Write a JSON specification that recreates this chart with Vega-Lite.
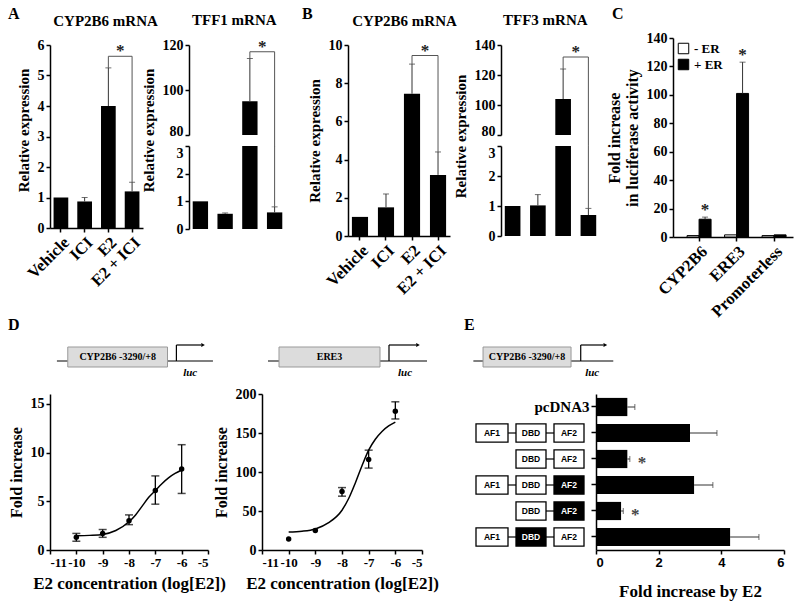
{
  "$schema": "https://vega.github.io/schema/vega-lite/v6.json",
  "padding": {"left": 8, "top": 6, "right": 5, "bottom": 5},
  "columns": 7,
  "align": "each",
  "bounds": "flush",
  "spacing": {"row": 157, "column": 0},
  "resolve": {"legend": {"color": "independent"}},
  "datasets": {
    "a1": [
      {"group": "Vehicle", "value": 1.0},
      {"group": "ICI", "value": 0.87, "err": 1.0},
      {"group": "E2", "value": 4.0, "err": 5.25},
      {"group": "E2 + ICI", "value": 1.2, "err": 1.5}
    ],
    "a1br": [{"group": "E2", "group2": "E2 + ICI", "yl": 5.25, "yr": 1.5, "top": 5.63}],
    "a2": [
      {"group": "Vehicle", "value": 1.0},
      {"group": "ICI", "value": 0.55, "err": 0.58},
      {"group": "E2", "value": 95, "err": 114},
      {"group": "E2 + ICI", "value": 0.6, "err": 0.8}
    ],
    "a2up": [{"group": "E2", "group2": "E2 + ICI", "yl": 114, "yr": 75, "top": 117}],
    "a2lo": [{"group2": "E2 + ICI", "yr": 0.8, "top": 3.0}],
    "b1": [
      {"group": "Vehicle", "value": 1.0},
      {"group": "ICI", "value": 1.5, "err": 2.2},
      {"group": "E2", "value": 7.45, "err": 9.0},
      {"group": "E2 + ICI", "value": 3.2, "err": 4.4}
    ],
    "b1br": [{"group": "E2", "group2": "E2 + ICI", "yl": 9.0, "yr": 4.4, "top": 9.45}],
    "b2": [
      {"group": "Vehicle", "value": 1.0},
      {"group": "ICI", "value": 1.02, "err": 1.38},
      {"group": "E2", "value": 104, "err": 124},
      {"group": "E2 + ICI", "value": 0.7, "err": 0.92}
    ],
    "b2up": [{"group": "E2", "group2": "E2 + ICI", "yl": 124, "yr": 72.7, "top": 132}],
    "b2lo": [{"group2": "E2 + ICI", "yr": 0.92, "top": 3.0}],
    "c": [
      {"g": "CYP2B6", "er": "- ER", "value": 1.0},
      {"g": "CYP2B6", "er": "+ ER", "value": 12.5, "err": 14},
      {"g": "ERE3", "er": "- ER", "value": 1.5},
      {"g": "ERE3", "er": "+ ER", "value": 101, "err": 123},
      {"g": "Promoterless", "er": "- ER", "value": 1.0},
      {"g": "Promoterless", "er": "+ ER", "value": 1.5}
    ],
    "d1p": [
      {"x": -10, "y": 1.3, "lo": 0.9, "hi": 1.7},
      {"x": -9, "y": 1.7, "lo": 1.3, "hi": 2.1},
      {"x": -8, "y": 3.0, "lo": 2.6, "hi": 3.6},
      {"x": -7, "y": 6.1, "lo": 4.7, "hi": 7.6},
      {"x": -6, "y": 8.3, "lo": 5.8, "hi": 10.8}
    ],
    "d1c": [
      {"x": -10, "y": 1.45}, {"x": -9.5, "y": 1.5}, {"x": -9, "y": 1.6},
      {"x": -8.5, "y": 2.0}, {"x": -8, "y": 2.9}, {"x": -7.75, "y": 3.6},
      {"x": -7.5, "y": 4.5}, {"x": -7.25, "y": 5.4}, {"x": -7, "y": 6.1},
      {"x": -6.75, "y": 6.8}, {"x": -6.5, "y": 7.4}, {"x": -6.25, "y": 7.85},
      {"x": -6, "y": 8.2}
    ],
    "d2p": [
      {"x": -10, "y": 14},
      {"x": -9, "y": 25},
      {"x": -8, "y": 75, "lo": 69, "hi": 80},
      {"x": -7, "y": 116, "lo": 105, "hi": 128},
      {"x": -6, "y": 178, "lo": 168, "hi": 190}
    ],
    "d2c": [
      {"x": -10, "y": 23}, {"x": -9.5, "y": 24}, {"x": -9, "y": 27},
      {"x": -8.5, "y": 35}, {"x": -8, "y": 51}, {"x": -7.75, "y": 66},
      {"x": -7.5, "y": 86}, {"x": -7.25, "y": 108}, {"x": -7, "y": 128},
      {"x": -6.75, "y": 142}, {"x": -6.5, "y": 152}, {"x": -6.25, "y": 159},
      {"x": -6, "y": 164}
    ],
    "e": [
      {"row": "pcDNA3", "value": 1.0, "err": 1.24},
      {"row": "ER", "value": 3.0, "err": 3.86},
      {"row": "ER dAF1", "value": 1.0, "err": 1.08, "star": 1.47},
      {"row": "ER AF2m", "value": 3.13, "err": 3.73},
      {"row": "ER dAF1 AF2m", "value": 0.8, "err": 0.87, "star": 1.25},
      {"row": "ER DBDm", "value": 4.28, "err": 5.2}
    ],
    "cons": [
      {"row": "ER", "dom": "AF1", "x": 0, "x2": 32, "xc": 16, "fill": "o"},
      {"row": "ER", "dom": "DBD", "x": 40, "x2": 70, "xc": 55, "fill": "o"},
      {"row": "ER", "dom": "AF2", "x": 78, "x2": 108, "xc": 93, "fill": "o"},
      {"row": "ER dAF1", "dom": "DBD", "x": 40, "x2": 70, "xc": 55, "fill": "o"},
      {"row": "ER dAF1", "dom": "AF2", "x": 78, "x2": 108, "xc": 93, "fill": "o"},
      {"row": "ER AF2m", "dom": "AF1", "x": 0, "x2": 32, "xc": 16, "fill": "o"},
      {"row": "ER AF2m", "dom": "DBD", "x": 40, "x2": 70, "xc": 55, "fill": "o"},
      {"row": "ER AF2m", "dom": "AF2", "x": 78, "x2": 108, "xc": 93, "fill": "f"},
      {"row": "ER dAF1 AF2m", "dom": "DBD", "x": 40, "x2": 70, "xc": 55, "fill": "o"},
      {"row": "ER dAF1 AF2m", "dom": "AF2", "x": 78, "x2": 108, "xc": 93, "fill": "f"},
      {"row": "ER DBDm", "dom": "AF1", "x": 0, "x2": 32, "xc": 16, "fill": "o"},
      {"row": "ER DBDm", "dom": "DBD", "x": 40, "x2": 70, "xc": 55, "fill": "f"},
      {"row": "ER DBDm", "dom": "AF2", "x": 78, "x2": 108, "xc": 93, "fill": "o"}
    ],
    "link": [
      {"row": "ER", "x": 32, "x2": 40}, {"row": "ER", "x": 70, "x2": 78},
      {"row": "ER dAF1", "x": 70, "x2": 78},
      {"row": "ER AF2m", "x": 32, "x2": 40}, {"row": "ER AF2m", "x": 70, "x2": 78},
      {"row": "ER dAF1 AF2m", "x": 70, "x2": 78},
      {"row": "ER DBDm", "x": 32, "x2": 40}, {"row": "ER DBDm", "x": 70, "x2": 78}
    ],
    "dg1": [
      {"k": "line", "x": 7, "x2": 165, "y": 19, "y2": 19},
      {"k": "line", "x": 128, "x2": 128, "y": 19, "y2": 35},
      {"k": "line", "x": 128, "x2": 153, "y": 35, "y2": 35},
      {"k": "box", "x": 18, "x2": 119, "y": 13, "y2": 33, "xc": 68.5, "yc": 23, "label": "CYP2B6 -3290/+8"},
      {"k": "head", "x": 155, "y": 35},
      {"k": "luc", "x": 142, "y": 7, "label": "luc"}
    ],
    "dg2": [
      {"k": "line", "x": 6, "x2": 165, "y": 19, "y2": 19},
      {"k": "line", "x": 127, "x2": 127, "y": 19, "y2": 35},
      {"k": "line", "x": 127, "x2": 154, "y": 35, "y2": 35},
      {"k": "box", "x": 17, "x2": 118, "y": 13, "y2": 33, "xc": 67.5, "yc": 23, "label": "ERE3"},
      {"k": "head", "x": 156, "y": 35},
      {"k": "luc", "x": 143, "y": 7, "label": "luc"}
    ],
    "dge": [
      {"k": "line", "x": -3, "x2": 156, "y": 19, "y2": 19},
      {"k": "line", "x": 119, "x2": 119, "y": 19, "y2": 35},
      {"k": "line", "x": 119, "x2": 145, "y": 35, "y2": 35},
      {"k": "box", "x": 8, "x2": 108, "y": 13, "y2": 33, "xc": 58, "yc": 23, "label": "CYP2B6 -3290/+8"},
      {"k": "head", "x": 147, "y": 35},
      {"k": "luc", "x": 132, "y": 7, "label": "luc"}
    ]
  },
  "concat": [
    {
      "width": 139, "height": 199,
      "title": {"text": "A", "anchor": "start", "frame": "group", "dx": -42, "offset": -9, "fontSize": 16},
      "resolve": {"axis": {"x": "independent"}},
      "layer": [
        {"layer": [
          {"data": {"name": "a1"}, "mark": {"type": "bar", "color": "black"},
           "encoding": {
             "x": {"field": "group", "type": "nominal", "scale": {"domain": ["Vehicle", "ICI", "E2", "E2 + ICI"], "range": [0, 93], "paddingInner": 0.38, "paddingOuter": 0.15}, "axis": {"title": null, "labelAngle": -45, "labelFontSize": 16.5, "offset": -9}},
             "y": {"field": "value", "type": "quantitative", "scale": {"domain": [0, 6], "range": [190, 7]}, "axis": {"title": "Relative expression", "values": [0, 1, 2, 3, 4, 5, 6], "tickCount": 20, "format": "d", "titleY": 92, "labelFontSize": 14}}}},
          {"data": {"name": "a1"}, "transform": [{"filter": "isValid(datum.err)"}], "mark": {"type": "rule", "color": "#333"},
           "encoding": {"x": {"field": "group", "type": "nominal"}, "y": {"field": "value", "type": "quantitative"}, "y2": {"field": "err"}}},
          {"data": {"name": "a1"}, "transform": [{"filter": "isValid(datum.err)"}], "mark": {"type": "tick", "color": "#333", "size": 6, "thickness": 1},
           "encoding": {"x": {"field": "group", "type": "nominal"}, "y": {"field": "err", "type": "quantitative"}}},
          {"data": {"name": "a1br"}, "mark": {"type": "rule", "color": "#555"},
           "encoding": {"x": {"field": "group", "type": "nominal"}, "x2": {"field": "group2"}, "y": {"field": "top", "type": "quantitative"}}},
          {"data": {"name": "a1br"}, "mark": {"type": "rule", "color": "#555"},
           "encoding": {"x": {"field": "group", "type": "nominal"}, "y": {"field": "yl", "type": "quantitative"}, "y2": {"field": "top"}}},
          {"data": {"name": "a1br"}, "mark": {"type": "rule", "color": "#555"},
           "encoding": {"x": {"field": "group2", "type": "nominal"}, "y": {"field": "yr", "type": "quantitative"}, "y2": {"field": "top"}}},
          {"data": {"name": "a1br"}, "mark": {"type": "text", "text": "*", "fontSize": 17, "fontWeight": "bold", "baseline": "alphabetic", "color": "#222"},
           "encoding": {"x": {"field": "group", "type": "nominal", "bandPosition": 1.3}, "y": {"field": "top", "type": "quantitative"}}}
        ]},
        {"data": {"name": "a1"}, "transform": [{"filter": "false"}], "mark": {"type": "tick"},
         "encoding": {"x": {"field": "group", "type": "nominal", "axis": {"orient": "top", "title": "CYP2B6  mRNA", "labels": false, "ticks": false, "domain": false, "titlePadding": 10, "titleX": 55, "titleFontSize": 15}}}}
      ]
    },
    {
      "width": 73, "height": 199,
      "title": {"text": "TFF1  mRNA", "anchor": "start", "frame": "group", "dx": 3, "offset": 10},
      "resolve": {"scale": {"y": "independent"}, "axis": {"y": "independent"}},
      "layer": [
        {"layer": [
          {"data": {"name": "a2"}, "transform": [{"filter": "datum.value > 50"}], "mark": {"type": "bar", "color": "black"},
           "encoding": {
             "x": {"field": "group", "type": "nominal", "scale": {"domain": ["Vehicle", "ICI", "E2", "E2 + ICI"], "range": [0, 97], "paddingInner": 0.38, "paddingOuter": 0.15}, "axis": null},
             "y": {"field": "value", "type": "quantitative", "scale": {"domain": [80, 120], "range": [97, 7], "zero": false}, "axis": {"orient": "left", "title": "Relative expression", "titleY": 92, "values": [80, 100, 120], "tickCount": 20, "format": "d", "labelFontSize": 14, "labelBaseline": {"condition": {"test": "datum.value == 80", "value": "alphabetic"}, "value": "middle"}}},
             "y2": {"datum": 80}}},
          {"data": {"name": "a2"}, "transform": [{"filter": "datum.value > 50"}], "mark": {"type": "rule", "color": "#333"},
           "encoding": {"x": {"field": "group", "type": "nominal", "axis": null}, "y": {"field": "value", "type": "quantitative"}, "y2": {"field": "err"}}},
          {"data": {"name": "a2"}, "transform": [{"filter": "datum.value > 50"}], "mark": {"type": "tick", "color": "#333", "size": 6, "thickness": 1},
           "encoding": {"x": {"field": "group", "type": "nominal", "axis": null}, "y": {"field": "err", "type": "quantitative"}}},
          {"data": {"name": "a2up"}, "mark": {"type": "rule", "color": "#555"},
           "encoding": {"x": {"field": "group", "type": "nominal", "axis": null}, "x2": {"field": "group2"}, "y": {"field": "top", "type": "quantitative"}}},
          {"data": {"name": "a2up"}, "mark": {"type": "rule", "color": "#555"},
           "encoding": {"x": {"field": "group", "type": "nominal", "axis": null}, "y": {"field": "yl", "type": "quantitative"}, "y2": {"field": "top"}}},
          {"data": {"name": "a2up"}, "mark": {"type": "rule", "color": "#555"},
           "encoding": {"x": {"field": "group2", "type": "nominal", "axis": null}, "y": {"field": "yr", "type": "quantitative"}, "y2": {"field": "top"}}},
          {"data": {"name": "a2up"}, "mark": {"type": "text", "text": "*", "fontSize": 17, "fontWeight": "bold", "baseline": "alphabetic", "color": "#222"},
           "encoding": {"x": {"field": "group", "type": "nominal", "bandPosition": 1.3, "axis": null}, "y": {"field": "top", "type": "quantitative"}}}
        ]},
        {"layer": [
          {"data": {"name": "a2"}, "mark": {"type": "bar", "color": "black"},
           "encoding": {
             "x": {"field": "group", "type": "nominal", "scale": {"domain": ["Vehicle", "ICI", "E2", "E2 + ICI"], "range": [0, 97], "paddingInner": 0.38, "paddingOuter": 0.15}, "axis": {"title": null, "labelAngle": -45, "labelFontSize": 16.5, "offset": -8}},
             "y": {"field": "value", "type": "quantitative", "scale": {"domain": [0, 3], "range": [191, 108], "clamp": true}, "axis": {"orient": "left", "title": null, "values": [0, 1, 2, 3], "tickCount": 20, "format": "d", "labelFontSize": 14, "labelBaseline": {"condition": {"test": "datum.value == 3", "value": "top"}, "value": "middle"}}}}},
          {"data": {"name": "a2"}, "transform": [{"filter": "isValid(datum.err) && datum.err < 3"}], "mark": {"type": "rule", "color": "#333"},
           "encoding": {"x": {"field": "group", "type": "nominal"}, "y": {"field": "value", "type": "quantitative"}, "y2": {"field": "err"}}},
          {"data": {"name": "a2"}, "transform": [{"filter": "isValid(datum.err) && datum.err < 3"}], "mark": {"type": "tick", "color": "#333", "size": 6, "thickness": 1},
           "encoding": {"x": {"field": "group", "type": "nominal"}, "y": {"field": "err", "type": "quantitative"}}},
          {"data": {"name": "a2lo"}, "mark": {"type": "rule", "color": "#555"},
           "encoding": {"x": {"field": "group2", "type": "nominal"}, "y": {"field": "yr", "type": "quantitative"}, "y2": {"field": "top"}}}
        ]}
      ]
    },
    {"width": 86, "height": 1, "data": {"values": []}, "mark": {"type": "point", "opacity": 0}, "encoding": {}},
    {
      "width": 153, "height": 199,
      "title": {"text": "B", "anchor": "start", "frame": "group", "dx": -46, "offset": -9, "fontSize": 16},
      "resolve": {"axis": {"x": "independent"}},
      "layer": [
        {"layer": [
          {"data": {"name": "b1"}, "mark": {"type": "bar", "color": "black"},
           "encoding": {
             "x": {"field": "group", "type": "nominal", "scale": {"domain": ["Vehicle", "ICI", "E2", "E2 + ICI"], "range": [0, 102], "paddingInner": 0.38, "paddingOuter": 0.15}, "axis": {"title": null, "labelAngle": -45, "labelFontSize": 16.5, "offset": -1}},
             "y": {"field": "value", "type": "quantitative", "scale": {"domain": [0, 10], "range": [198, 7]}, "axis": {"title": "Relative expression", "values": [0, 2, 4, 6, 8, 10], "tickCount": 20, "format": "d", "labelFontSize": 14}}}},
          {"data": {"name": "b1"}, "transform": [{"filter": "isValid(datum.err)"}], "mark": {"type": "rule", "color": "#333"},
           "encoding": {"x": {"field": "group", "type": "nominal"}, "y": {"field": "value", "type": "quantitative"}, "y2": {"field": "err"}}},
          {"data": {"name": "b1"}, "transform": [{"filter": "isValid(datum.err)"}], "mark": {"type": "tick", "color": "#333", "size": 6, "thickness": 1},
           "encoding": {"x": {"field": "group", "type": "nominal"}, "y": {"field": "err", "type": "quantitative"}}},
          {"data": {"name": "b1br"}, "mark": {"type": "rule", "color": "#555"},
           "encoding": {"x": {"field": "group", "type": "nominal"}, "x2": {"field": "group2"}, "y": {"field": "top", "type": "quantitative"}}},
          {"data": {"name": "b1br"}, "mark": {"type": "rule", "color": "#555"},
           "encoding": {"x": {"field": "group", "type": "nominal"}, "y": {"field": "yl", "type": "quantitative"}, "y2": {"field": "top"}}},
          {"data": {"name": "b1br"}, "mark": {"type": "rule", "color": "#555"},
           "encoding": {"x": {"field": "group2", "type": "nominal"}, "y": {"field": "yr", "type": "quantitative"}, "y2": {"field": "top"}}},
          {"data": {"name": "b1br"}, "mark": {"type": "text", "text": "*", "fontSize": 17, "fontWeight": "bold", "baseline": "alphabetic", "color": "#222"},
           "encoding": {"x": {"field": "group", "type": "nominal", "bandPosition": 1.3}, "y": {"field": "top", "type": "quantitative"}}}
        ]},
        {"data": {"name": "b1"}, "transform": [{"filter": "false"}], "mark": {"type": "tick"},
         "encoding": {"x": {"field": "group", "type": "nominal", "axis": {"orient": "top", "title": "CYP2B6 mRNA", "labels": false, "ticks": false, "domain": false, "titlePadding": 10, "titleX": 56, "titleFontSize": 15}}}}
      ]
    },
    {
      "width": 95, "height": 199,
      "title": {"text": "TFF3 mRNA", "anchor": "start", "frame": "group", "dx": 2, "offset": 10},
      "resolve": {"scale": {"y": "independent"}, "axis": {"y": "independent"}},
      "layer": [
        {"layer": [
          {"data": {"name": "b2"}, "transform": [{"filter": "datum.value > 50"}], "mark": {"type": "bar", "color": "black"},
           "encoding": {
             "x": {"field": "group", "type": "nominal", "scale": {"domain": ["Vehicle", "ICI", "E2", "E2 + ICI"], "range": [0, 99], "paddingInner": 0.38, "paddingOuter": 0.15}, "axis": null},
             "y": {"field": "value", "type": "quantitative", "scale": {"domain": [80, 140], "range": [97, 7], "zero": false}, "axis": {"orient": "left", "title": "Relative expression", "titleY": 98, "values": [80, 100, 120, 140], "tickCount": 20, "format": "d", "labelFontSize": 14, "labelBaseline": {"condition": {"test": "datum.value == 80", "value": "alphabetic"}, "value": "middle"}}},
             "y2": {"datum": 80}}},
          {"data": {"name": "b2"}, "transform": [{"filter": "datum.value > 50"}], "mark": {"type": "rule", "color": "#333"},
           "encoding": {"x": {"field": "group", "type": "nominal", "axis": null}, "y": {"field": "value", "type": "quantitative"}, "y2": {"field": "err"}}},
          {"data": {"name": "b2"}, "transform": [{"filter": "datum.value > 50"}], "mark": {"type": "tick", "color": "#333", "size": 6, "thickness": 1},
           "encoding": {"x": {"field": "group", "type": "nominal", "axis": null}, "y": {"field": "err", "type": "quantitative"}}},
          {"data": {"name": "b2up"}, "mark": {"type": "rule", "color": "#555"},
           "encoding": {"x": {"field": "group", "type": "nominal", "axis": null}, "x2": {"field": "group2"}, "y": {"field": "top", "type": "quantitative"}}},
          {"data": {"name": "b2up"}, "mark": {"type": "rule", "color": "#555"},
           "encoding": {"x": {"field": "group", "type": "nominal", "axis": null}, "y": {"field": "yl", "type": "quantitative"}, "y2": {"field": "top"}}},
          {"data": {"name": "b2up"}, "mark": {"type": "rule", "color": "#555"},
           "encoding": {"x": {"field": "group2", "type": "nominal", "axis": null}, "y": {"field": "yr", "type": "quantitative"}, "y2": {"field": "top"}}},
          {"data": {"name": "b2up"}, "mark": {"type": "text", "text": "*", "fontSize": 17, "fontWeight": "bold", "baseline": "alphabetic", "color": "#222"},
           "encoding": {"x": {"field": "group", "type": "nominal", "bandPosition": 1.3, "axis": null}, "y": {"field": "top", "type": "quantitative"}}}
        ]},
        {"layer": [
          {"data": {"name": "b2"}, "mark": {"type": "bar", "color": "black"},
           "encoding": {
             "x": {"field": "group", "type": "nominal", "scale": {"domain": ["Vehicle", "ICI", "E2", "E2 + ICI"], "range": [0, 99], "paddingInner": 0.38, "paddingOuter": 0.15}, "axis": {"title": null, "labelAngle": -45, "labelFontSize": 16.5, "offset": -1}},
             "y": {"field": "value", "type": "quantitative", "scale": {"domain": [0, 3], "range": [198, 108], "clamp": true}, "axis": {"orient": "left", "title": null, "values": [0, 1, 2, 3], "tickCount": 20, "format": "d", "labelFontSize": 14, "labelBaseline": {"condition": {"test": "datum.value == 3", "value": "top"}, "value": "middle"}}}}},
          {"data": {"name": "b2"}, "transform": [{"filter": "isValid(datum.err) && datum.err < 3"}], "mark": {"type": "rule", "color": "#333"},
           "encoding": {"x": {"field": "group", "type": "nominal"}, "y": {"field": "value", "type": "quantitative"}, "y2": {"field": "err"}}},
          {"data": {"name": "b2"}, "transform": [{"filter": "isValid(datum.err) && datum.err < 3"}], "mark": {"type": "tick", "color": "#333", "size": 6, "thickness": 1},
           "encoding": {"x": {"field": "group", "type": "nominal"}, "y": {"field": "err", "type": "quantitative"}}},
          {"data": {"name": "b2lo"}, "mark": {"type": "rule", "color": "#555"},
           "encoding": {"x": {"field": "group2", "type": "nominal"}, "y": {"field": "yr", "type": "quantitative"}, "y2": {"field": "top"}}}
        ]}
      ]
    },
    {"width": 77, "height": 1, "data": {"values": []}, "mark": {"type": "point", "opacity": 0}, "encoding": {}},
    {
      "width": 120, "height": 199,
      "title": {"text": "C", "anchor": "start", "frame": "group", "dx": -61, "offset": 9, "fontSize": 16},
      "layer": [
        {"data": {"name": "c"}, "mark": {"type": "bar", "stroke": "black", "strokeWidth": 1},
         "encoding": {
           "x": {"field": "g", "type": "nominal", "scale": {"domain": ["CYP2B6", "ERE3", "Promoterless"], "paddingInner": 0.36, "paddingOuter": 0.28, "align": 0.67}, "axis": {"title": null, "labelAngle": -45, "labelFontSize": 16.5}},
           "xOffset": {"field": "er", "type": "nominal", "scale": {"domain": ["- ER", "+ ER"]}},
           "y": {"field": "value", "type": "quantitative", "scale": {"domain": [0, 140]}, "axis": {"title": ["Fold increase", "in luciferase activity"], "values": [0, 20, 40, 60, 80, 100, 120, 140], "tickCount": 20, "format": "d", "titleFontSize": 16, "labelFontSize": 14}},
           "color": {"field": "er", "type": "nominal", "scale": {"domain": ["- ER", "+ ER"], "range": ["white", "black"]},
             "legend": {"title": null, "orient": "top-left", "offset": 4, "symbolType": "square", "symbolSize": 110, "symbolStrokeColor": "black", "symbolStrokeWidth": 1, "labelFont": "Liberation Serif", "labelFontWeight": "bold", "labelFontSize": 13, "labelColor": "black", "rowPadding": 1, "padding": 0}}}},
        {"data": {"name": "c"}, "transform": [{"filter": "isValid(datum.err)"}], "mark": {"type": "rule", "color": "#333"},
         "encoding": {"x": {"field": "g", "type": "nominal"}, "xOffset": {"field": "er", "type": "nominal"}, "y": {"field": "value", "type": "quantitative"}, "y2": {"field": "err"}}},
        {"data": {"name": "c"}, "transform": [{"filter": "isValid(datum.err)"}], "mark": {"type": "tick", "color": "#333", "size": 6, "thickness": 1},
         "encoding": {"x": {"field": "g", "type": "nominal"}, "xOffset": {"field": "er", "type": "nominal"}, "y": {"field": "err", "type": "quantitative"}}},
        {"data": {"name": "c"}, "transform": [{"filter": "isValid(datum.err)"}], "mark": {"type": "text", "text": "*", "fontSize": 17, "fontWeight": "bold", "baseline": "alphabetic", "dy": -2, "color": "#222"},
         "encoding": {"x": {"field": "g", "type": "nominal"}, "xOffset": {"field": "er", "type": "nominal"}, "y": {"field": "err", "type": "quantitative"}}}
      ]
    },
    {
      "width": 139, "height": 156,
      "title": {"text": "D", "anchor": "start", "frame": "group", "dx": -42, "offset": 10, "fontSize": 16},
      "resolve": {"scale": {"x": "independent", "y": "independent"}},
      "layer": [
        {"layer": [
          {"data": {"name": "d1c"}, "mark": {"type": "line", "color": "black", "strokeWidth": 1.5, "interpolate": "monotone"},
           "encoding": {
             "x": {"field": "x", "type": "quantitative", "scale": {"domain": [-11, -5], "range": [0, 158]}, "axis": {"title": "E2 concentration (log[E2])", "values": [-11, -10, -9, -8, -7, -6, -5], "tickCount": 20, "labelExpr": "'' + datum.value", "titleFontSize": 17, "labelFontSize": 13, "titleX": 79}},
             "y": {"field": "y", "type": "quantitative", "scale": {"domain": [0, 15]}, "axis": {"title": "Fold increase", "values": [0, 5, 10, 15], "tickCount": 20, "titleFontSize": 16, "labelFontSize": 14}}}},
          {"data": {"name": "d1p"}, "mark": {"type": "rule", "color": "black", "strokeWidth": 1.3},
           "encoding": {"x": {"field": "x", "type": "quantitative"}, "y": {"field": "lo", "type": "quantitative"}, "y2": {"field": "hi"}}},
          {"data": {"name": "d1p"}, "mark": {"type": "tick", "orient": "horizontal", "color": "black", "size": 8, "thickness": 1.5},
           "encoding": {"x": {"field": "x", "type": "quantitative"}, "y": {"field": "lo", "type": "quantitative"}}},
          {"data": {"name": "d1p"}, "mark": {"type": "tick", "orient": "horizontal", "color": "black", "size": 8, "thickness": 1.5},
           "encoding": {"x": {"field": "x", "type": "quantitative"}, "y": {"field": "hi", "type": "quantitative"}}},
          {"data": {"name": "d1p"}, "mark": {"type": "point", "filled": true, "color": "black", "size": 30, "opacity": 1},
           "encoding": {"x": {"field": "x", "type": "quantitative"}, "y": {"field": "y", "type": "quantitative"}}}
        ]},
        {"layer": [
          {"data": {"name": "dg1"}, "transform": [{"filter": "datum.k == 'line'"}], "mark": {"type": "rule", "color": "black", "strokeWidth": 1.2},
           "encoding": {"x": {"field": "x", "type": "quantitative", "scale": {"domain": [0, 158], "range": [0, 158]}, "axis": null}, "x2": {"field": "x2"}, "y": {"field": "y", "type": "quantitative", "scale": {"domain": [0, 40], "range": [-14, -54]}, "axis": null}, "y2": {"field": "y2"}}},
          {"data": {"name": "dg1"}, "transform": [{"filter": "datum.k == 'box'"}], "mark": {"type": "rect", "fill": "#dcdcdc", "stroke": "#999", "strokeWidth": 1},
           "encoding": {"x": {"field": "x", "type": "quantitative", "axis": null}, "x2": {"field": "x2"}, "y": {"field": "y", "type": "quantitative", "axis": null}, "y2": {"field": "y2"}}},
          {"data": {"name": "dg1"}, "transform": [{"filter": "datum.k == 'box'"}], "mark": {"type": "text", "fontWeight": "bold", "fontSize": 10, "baseline": "middle"},
           "encoding": {"x": {"field": "xc", "type": "quantitative", "axis": null}, "y": {"field": "yc", "type": "quantitative", "axis": null}, "text": {"field": "label"}}},
          {"data": {"name": "dg1"}, "transform": [{"filter": "datum.k == 'head'"}], "mark": {"type": "point", "shape": "triangle-right", "filled": true, "color": "black", "size": 18, "opacity": 1},
           "encoding": {"x": {"field": "x", "type": "quantitative", "axis": null}, "y": {"field": "y", "type": "quantitative", "axis": null}}},
          {"data": {"name": "dg1"}, "transform": [{"filter": "datum.k == 'luc'"}], "mark": {"type": "text", "fontWeight": "bold", "fontStyle": "italic", "fontSize": 11, "baseline": "middle"},
           "encoding": {"x": {"field": "x", "type": "quantitative", "axis": null}, "y": {"field": "y", "type": "quantitative", "axis": null}, "text": {"field": "label"}}}
        ]}
      ]
    },
    {"width": 73, "height": 1, "data": {"values": []}, "mark": {"type": "point", "opacity": 0}, "encoding": {}},
    {
      "width": 86, "height": 156,
      "resolve": {"scale": {"x": "independent", "y": "independent"}},
      "layer": [
        {"layer": [
          {"data": {"name": "d2c"}, "mark": {"type": "line", "color": "black", "strokeWidth": 1.5, "interpolate": "monotone"},
           "encoding": {
             "x": {"field": "x", "type": "quantitative", "scale": {"domain": [-11, -5], "range": [0, 160]}, "axis": {"title": "E2 concentration (log[E2])", "values": [-11, -10, -9, -8, -7, -6, -5], "tickCount": 20, "labelExpr": "'' + datum.value", "titleFontSize": 17, "labelFontSize": 13, "titleX": 80}},
             "y": {"field": "y", "type": "quantitative", "scale": {"domain": [0, 200]}, "axis": {"title": "Fold increase", "values": [0, 50, 100, 150, 200], "tickCount": 20, "titleFontSize": 16, "labelFontSize": 14}}}},
          {"data": {"name": "d2p"}, "transform": [{"filter": "isValid(datum.lo)"}], "mark": {"type": "rule", "color": "black", "strokeWidth": 1.3},
           "encoding": {"x": {"field": "x", "type": "quantitative"}, "y": {"field": "lo", "type": "quantitative"}, "y2": {"field": "hi"}}},
          {"data": {"name": "d2p"}, "transform": [{"filter": "isValid(datum.lo)"}], "mark": {"type": "tick", "orient": "horizontal", "color": "black", "size": 8, "thickness": 1.5},
           "encoding": {"x": {"field": "x", "type": "quantitative"}, "y": {"field": "lo", "type": "quantitative"}}},
          {"data": {"name": "d2p"}, "transform": [{"filter": "isValid(datum.hi)"}], "mark": {"type": "tick", "orient": "horizontal", "color": "black", "size": 8, "thickness": 1.5},
           "encoding": {"x": {"field": "x", "type": "quantitative"}, "y": {"field": "hi", "type": "quantitative"}}},
          {"data": {"name": "d2p"}, "mark": {"type": "point", "filled": true, "color": "black", "size": 30, "opacity": 1},
           "encoding": {"x": {"field": "x", "type": "quantitative"}, "y": {"field": "y", "type": "quantitative"}}}
        ]},
        {"layer": [
          {"data": {"name": "dg2"}, "transform": [{"filter": "datum.k == 'line'"}], "mark": {"type": "rule", "color": "black", "strokeWidth": 1.2},
           "encoding": {"x": {"field": "x", "type": "quantitative", "scale": {"domain": [0, 160], "range": [0, 160]}, "axis": null}, "x2": {"field": "x2"}, "y": {"field": "y", "type": "quantitative", "scale": {"domain": [0, 40], "range": [-14, -54]}, "axis": null}, "y2": {"field": "y2"}}},
          {"data": {"name": "dg2"}, "transform": [{"filter": "datum.k == 'box'"}], "mark": {"type": "rect", "fill": "#dcdcdc", "stroke": "#999", "strokeWidth": 1},
           "encoding": {"x": {"field": "x", "type": "quantitative", "axis": null}, "x2": {"field": "x2"}, "y": {"field": "y", "type": "quantitative", "axis": null}, "y2": {"field": "y2"}}},
          {"data": {"name": "dg2"}, "transform": [{"filter": "datum.k == 'box'"}], "mark": {"type": "text", "fontWeight": "bold", "fontSize": 10, "baseline": "middle"},
           "encoding": {"x": {"field": "xc", "type": "quantitative", "axis": null}, "y": {"field": "yc", "type": "quantitative", "axis": null}, "text": {"field": "label"}}},
          {"data": {"name": "dg2"}, "transform": [{"filter": "datum.k == 'head'"}], "mark": {"type": "point", "shape": "triangle-right", "filled": true, "color": "black", "size": 18, "opacity": 1},
           "encoding": {"x": {"field": "x", "type": "quantitative", "axis": null}, "y": {"field": "y", "type": "quantitative", "axis": null}}},
          {"data": {"name": "dg2"}, "transform": [{"filter": "datum.k == 'luc'"}], "mark": {"type": "text", "fontWeight": "bold", "fontStyle": "italic", "fontSize": 11, "baseline": "middle"},
           "encoding": {"x": {"field": "x", "type": "quantitative", "axis": null}, "y": {"field": "y", "type": "quantitative", "axis": null}, "text": {"field": "label"}}}
        ]}
      ]
    },
    {"width": 153, "height": 1, "data": {"values": []}, "mark": {"type": "point", "opacity": 0}, "encoding": {}},
    {"width": 95, "height": 1, "data": {"values": []}, "mark": {"type": "point", "opacity": 0}, "encoding": {}},
    {
      "width": 77, "height": 156,
      "title": {"text": "E", "anchor": "start", "frame": "group", "dx": -132, "offset": 10, "fontSize": 16},
      "resolve": {"scale": {"x": "independent", "y": "independent"}},
      "layer": [
        {
          "resolve": {"scale": {"x": "independent"}},
          "layer": [
            {"layer": [
              {"data": {"name": "e"}, "mark": {"type": "bar", "color": "black"},
               "encoding": {
                 "y": {"field": "row", "type": "nominal", "scale": {"domain": ["pcDNA3", "ER", "ER dAF1", "ER AF2m", "ER dAF1 AF2m", "ER DBDm"], "paddingInner": 0.3, "paddingOuter": 0.15},
                   "axis": {"title": null, "labelExpr": "datum.value == 'pcDNA3' ? 'pcDNA3' : ''", "labelFontSize": 15, "tickSize": 5}},
                 "x": {"field": "value", "type": "quantitative", "scale": {"domain": [0, 6], "range": [0, 188]}, "axis": {"title": "Fold increase by E2", "values": [0, 2, 4, 6], "tickCount": 20, "format": "d", "labelFont": "Liberation Sans", "labelFontSize": 13, "titleFontSize": 17, "titlePadding": 14, "titleX": 94}}}},
              {"data": {"name": "e"}, "mark": {"type": "rule", "color": "#333"},
               "encoding": {"y": {"field": "row", "type": "nominal"}, "x": {"field": "value", "type": "quantitative"}, "x2": {"field": "err"}}},
              {"data": {"name": "e"}, "mark": {"type": "tick", "orient": "vertical", "color": "#333", "size": 6, "thickness": 1},
               "encoding": {"y": {"field": "row", "type": "nominal"}, "x": {"field": "err", "type": "quantitative"}}},
              {"data": {"name": "e"}, "transform": [{"filter": "isValid(datum.star)"}], "mark": {"type": "text", "text": "*", "fontSize": 17, "fontWeight": "bold", "baseline": "middle", "dy": 4, "color": "#444"},
               "encoding": {"y": {"field": "row", "type": "nominal"}, "x": {"field": "star", "type": "quantitative"}}}
            ]},
            {"layer": [
              {"data": {"name": "link"}, "mark": {"type": "rule", "color": "black", "strokeWidth": 1.2},
               "encoding": {"x": {"field": "x", "type": "quantitative", "scale": {"domain": [0, 120], "range": [-120, 0]}, "axis": null}, "x2": {"field": "x2"},
                 "y": {"field": "row", "type": "nominal", "axis": {"title": null, "labelExpr": "datum.value == 'pcDNA3' ? 'pcDNA3' : ''", "labelFontSize": 15, "tickSize": 5}}}},
              {"data": {"name": "cons"}, "transform": [{"filter": "datum.fill == 'o'"}], "mark": {"type": "rect", "fill": "white", "stroke": "black", "strokeWidth": 1.3},
               "encoding": {"x": {"field": "x", "type": "quantitative", "axis": null}, "x2": {"field": "x2"}, "y": {"field": "row", "type": "nominal", "axis": {"title": null, "labelExpr": "datum.value == 'pcDNA3' ? 'pcDNA3' : ''", "labelFontSize": 15, "tickSize": 5}}}},
              {"data": {"name": "cons"}, "transform": [{"filter": "datum.fill == 'f'"}], "mark": {"type": "rect", "fill": "black", "stroke": "black", "strokeWidth": 1.3},
               "encoding": {"x": {"field": "x", "type": "quantitative", "axis": null}, "x2": {"field": "x2"}, "y": {"field": "row", "type": "nominal", "axis": {"title": null, "labelExpr": "datum.value == 'pcDNA3' ? 'pcDNA3' : ''", "labelFontSize": 15, "tickSize": 5}}}},
              {"data": {"name": "cons"}, "transform": [{"filter": "datum.fill == 'o'"}], "mark": {"type": "text", "font": "Liberation Sans", "fontWeight": "bold", "fontSize": 8.5, "color": "black", "baseline": "middle"},
               "encoding": {"x": {"field": "xc", "type": "quantitative", "axis": null}, "y": {"field": "row", "type": "nominal", "axis": {"title": null, "labelExpr": "datum.value == 'pcDNA3' ? 'pcDNA3' : ''", "labelFontSize": 15, "tickSize": 5}}, "text": {"field": "dom"}}},
              {"data": {"name": "cons"}, "transform": [{"filter": "datum.fill == 'f'"}], "mark": {"type": "text", "font": "Liberation Sans", "fontWeight": "bold", "fontSize": 8.5, "color": "white", "baseline": "middle"},
               "encoding": {"x": {"field": "xc", "type": "quantitative", "axis": null}, "y": {"field": "row", "type": "nominal", "axis": {"title": null, "labelExpr": "datum.value == 'pcDNA3' ? 'pcDNA3' : ''", "labelFontSize": 15, "tickSize": 5}}, "text": {"field": "dom"}}}
            ]}
          ]
        },
        {"layer": [
          {"data": {"name": "dge"}, "transform": [{"filter": "datum.k == 'line'"}], "mark": {"type": "rule", "color": "black", "strokeWidth": 1.2},
           "encoding": {"x": {"field": "x", "type": "quantitative", "scale": {"domain": [0, 308], "range": [-120, 188]}, "axis": null}, "x2": {"field": "x2"}, "y": {"field": "y", "type": "quantitative", "scale": {"domain": [0, 40], "range": [-14, -54]}, "axis": null}, "y2": {"field": "y2"}}},
          {"data": {"name": "dge"}, "transform": [{"filter": "datum.k == 'box'"}], "mark": {"type": "rect", "fill": "#dcdcdc", "stroke": "#999", "strokeWidth": 1},
           "encoding": {"x": {"field": "x", "type": "quantitative", "axis": null}, "x2": {"field": "x2"}, "y": {"field": "y", "type": "quantitative", "axis": null}, "y2": {"field": "y2"}}},
          {"data": {"name": "dge"}, "transform": [{"filter": "datum.k == 'box'"}], "mark": {"type": "text", "fontWeight": "bold", "fontSize": 10, "baseline": "middle"},
           "encoding": {"x": {"field": "xc", "type": "quantitative", "axis": null}, "y": {"field": "yc", "type": "quantitative", "axis": null}, "text": {"field": "label"}}},
          {"data": {"name": "dge"}, "transform": [{"filter": "datum.k == 'head'"}], "mark": {"type": "point", "shape": "triangle-right", "filled": true, "color": "black", "size": 18, "opacity": 1},
           "encoding": {"x": {"field": "x", "type": "quantitative", "axis": null}, "y": {"field": "y", "type": "quantitative", "axis": null}}},
          {"data": {"name": "dge"}, "transform": [{"filter": "datum.k == 'luc'"}], "mark": {"type": "text", "fontWeight": "bold", "fontStyle": "italic", "fontSize": 11, "baseline": "middle"},
           "encoding": {"x": {"field": "x", "type": "quantitative", "axis": null}, "y": {"field": "y", "type": "quantitative", "axis": null}, "text": {"field": "label"}}}
        ]}
      ]
    }
  ],
  "config": {
    "view": {"stroke": null},
    "font": "Liberation Serif",
    "axis": {"labelFont": "Liberation Serif", "labelFontWeight": "bold", "labelFontSize": 13, "labelColor": "black", "labelOverlap": false, "titleFont": "Liberation Serif", "titleFontWeight": "bold", "titleFontSize": 15, "titleColor": "black", "domainColor": "black", "domainWidth": 1.5, "tickColor": "black", "tickWidth": 1.5, "tickSize": 4, "grid": false, "labelPadding": 2, "titlePadding": 6},
    "title": {"font": "Liberation Serif", "fontWeight": "bold", "fontSize": 15, "color": "black"},
    "text": {"font": "Liberation Serif", "color": "black"}
  }
}
